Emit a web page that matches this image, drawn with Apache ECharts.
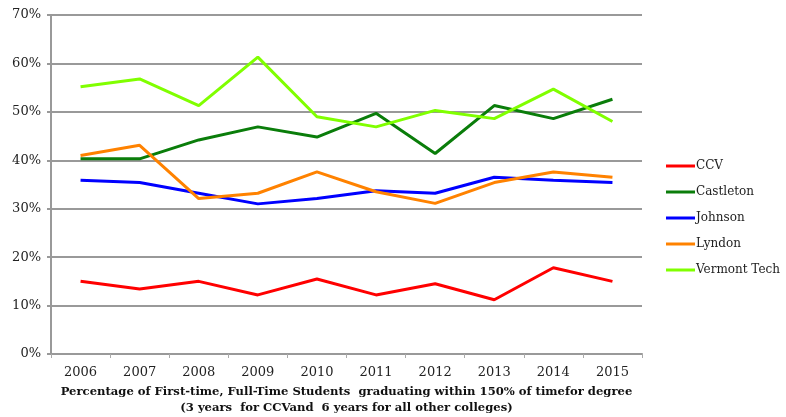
<!DOCTYPE html>
<html>
<head>
<meta charset="utf-8">
<script src="https://cdn.jsdelivr.net/npm/echarts@6/dist/echarts.min.js"></script>
<style>
  html, body { margin: 0; padding: 0; background: #fff; }
  #main { width: 786px; height: 417px; }
</style>
</head>
<body>
<div id="main"></div>
<script>
const years = ['2006', '2007', '2008', '2009', '2010', '2011', '2012', '2013', '2014', '2015']
const ccv = [15.0, 13.4, 15.0, 12.2, 15.5, 12.2, 14.5, 11.2, 17.8, 15.0]
const castleton = [40.3, 40.3, 44.2, 46.9, 44.8, 49.7, 41.4, 51.3, 48.6, 52.6]
const johnson = [35.9, 35.4, 33.2, 31.0, 32.1, 33.7, 33.2, 36.5, 35.9, 35.4]
const lyndon = [41.0, 43.1, 32.1, 33.2, 37.6, 33.5, 31.1, 35.4, 37.6, 36.5]
const vermontTech = [55.2, 56.8, 51.3, 61.3, 49.0, 46.9, 50.3, 48.6, 54.7, 48.0]
const axisTitle = 'Percentage of First-time, Full-Time Students  graduating within 150% of timefor degree\n(3 years  for CCVand  6 years for all other colleges)'

const font = 'DejaVu Serif'

function line(name, data, color) {
  return {
    name: name,
    type: 'line',
    data: data,
    showSymbol: false,
    symbol: 'none',
    animation: false,
    lineStyle: { color: color, width: 3 },
    itemStyle: { color: color }
  }
}

const chart = echarts.init(document.getElementById('main'))
chart.setOption({
  animation: false,
  textStyle: { fontFamily: font },
  grid: { left: 51, right: 144, top: 15, bottom: 63, outerBoundsMode: 'none', containLabel: false },
  legend: {
    orient: 'vertical',
    left: 661,
    top: 155,
    icon: 'rect',
    itemWidth: 29,
    itemHeight: 3,
    itemGap: 14,
    textStyle: { fontFamily: font, fontSize: 12, color: '#222', padding: [0, 0, 0, -4] },
    data: ['CCV', 'Castleton', 'Johnson', 'Lyndon', 'Vermont Tech']
  },
  xAxis: {
    type: 'category',
    data: years,
    boundaryGap: true,
    axisLine: { lineStyle: { color: '#999', width: 2 } },
    axisTick: { show: true, length: 4, lineStyle: { color: '#aaa' } },
    axisLabel: { fontFamily: font, fontSize: 13, color: '#222', margin: 12 },
    name: axisTitle,
    nameLocation: 'middle',
    nameGap: 30,
    nameTextStyle: { fontFamily: font, fontSize: 11.6, fontWeight: 'bold', color: '#111', lineHeight: 16 }
  },
  yAxis: {
    type: 'value',
    min: 0,
    max: 70,
    interval: 10,
    axisLine: { show: true, lineStyle: { color: '#999', width: 2 } },
    axisTick: { show: true, length: 4, lineStyle: { color: '#999', width: 2 } },
    splitLine: { lineStyle: { color: '#999', width: 2 } },
    axisLabel: { fontFamily: font, fontSize: 13, color: '#222', margin: 10, formatter: '{value}%' }
  },
  series: [
    line('CCV', ccv, '#ff0000'),
    line('Castleton', castleton, '#0a7d0a'),
    line('Johnson', johnson, '#0000ff'),
    line('Lyndon', lyndon, '#ff8200'),
    line('Vermont Tech', vermontTech, '#80ff00')
  ]
})
</script>
</body>
</html>
